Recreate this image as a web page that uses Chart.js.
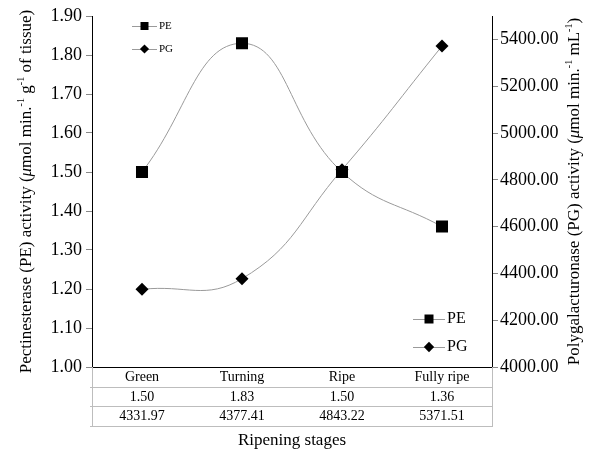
<!DOCTYPE html>
<html>
<head>
<meta charset="utf-8">
<script src="https://cdn.jsdelivr.net/npm/chart.js@4"></script>
<style>
html,body{margin:0;padding:0;background:#fff;}
#wrap{width:589px;height:460px;position:relative;}
</style>
</head>
<body>
<div id="wrap"><canvas id="c" width="589" height="460"></canvas></div>
<script>
const categories = ['Green', 'Turning', 'Ripe', 'Fully ripe'];
const peValues = [1.50, 1.83, 1.50, 1.36];
const pgValues = [4331.97, 4377.41, 4843.22, 5371.51];
const seriesNames = ['PE', 'PG'];
const xTitle = 'Ripening stages';

const FONT = "'Liberation Serif', 'DejaVu Serif', serif";
const LINE = '#9a9a9a';

function drawRich(ctx, segs, size, cx, cy, rot) {
  ctx.save();
  ctx.translate(cx, cy);
  ctx.rotate(rot);
  let total = 0;
  const parts = segs.map(s => {
    const sz = s.sup ? size * 0.6 : size;
    const f = (s.italic ? 'italic ' : '') + sz + 'px ' + FONT;
    ctx.font = f;
    const w = ctx.measureText(s.t).width;
    total += w;
    return {t: s.t, f, w, sup: s.sup};
  });
  let x = -total / 2;
  ctx.fillStyle = '#000';
  ctx.textBaseline = 'middle';
  ctx.textAlign = 'left';
  parts.forEach(p => {
    ctx.font = p.f;
    ctx.fillText(p.t, x, p.sup ? -size * 0.35 : 0);
    x += p.w;
  });
  ctx.restore();
}

function drawMarker(ctx, style, x, y, r) {
  ctx.save();
  ctx.fillStyle = '#000';
  ctx.beginPath();
  if (style === 'rect') {
    ctx.rect(x - r, y - r, 2 * r, 2 * r);
  } else {
    ctx.moveTo(x, y - r); ctx.lineTo(x + r, y); ctx.lineTo(x, y + r); ctx.lineTo(x - r, y); ctx.closePath();
  }
  ctx.fill();
  ctx.restore();
}

function drawLegend(ctx, x0, x1, y0, gap, size, mr) {
  const styles = ['rect', 'rectRot'];
  seriesNames.forEach((n, i) => {
    const y = y0 + i * gap;
    ctx.save();
    ctx.strokeStyle = LINE;
    ctx.lineWidth = 1;
    ctx.beginPath();
    ctx.moveTo(x0, y + 0.5); ctx.lineTo(x1, y + 0.5);
    ctx.stroke();
    ctx.restore();
    drawMarker(ctx, styles[i], (x0 + x1) / 2, y, i === 0 ? mr : mr * 1.15);
    ctx.save();
    ctx.fillStyle = '#000';
    ctx.font = size + 'px ' + FONT;
    ctx.textBaseline = 'middle';
    ctx.textAlign = 'left';
    ctx.fillText(n, x1 + 2, y);
    ctx.restore();
  });
}

const extras = {
  id: 'extras',
  afterDraw(chart) {
    const ctx = chart.ctx;
    const a = chart.chartArea;
    const xs = chart.scales.x;
    // bottom axis line
    ctx.save();
    ctx.strokeStyle = '#000';
    ctx.lineWidth = 1;
    ctx.beginPath();
    ctx.moveTo(a.left, a.bottom + 0.5); ctx.lineTo(a.right + 1, a.bottom + 0.5);
    ctx.stroke();
    // data table
    const rowH = 19.5;
    ctx.strokeStyle = '#bdbdbd';
    ctx.beginPath();
    for (let r = 1; r <= 3; r++) {
      const y = Math.round(a.bottom + r * rowH) + 0.5;
      ctx.moveTo(a.left - 2, y); ctx.lineTo(a.right + 1, y);
    }
    ctx.moveTo(a.left + 0.5, a.bottom); ctx.lineTo(a.left + 0.5, a.bottom + 3 * rowH + 1);
    ctx.moveTo(a.right + 0.5, a.bottom); ctx.lineTo(a.right + 0.5, a.bottom + 3 * rowH + 1);
    ctx.stroke();
    ctx.fillStyle = '#000';
    ctx.font = '14px ' + FONT;
    ctx.textAlign = 'center';
    ctx.textBaseline = 'middle';
    categories.forEach((c, i) => {
      const x = xs.getPixelForValue(i);
      ctx.fillText(c, x, a.bottom + rowH * 0.5 + 1);
      ctx.fillText(peValues[i].toFixed(2), x, a.bottom + rowH * 1.5 + 1);
      ctx.fillText(pgValues[i].toFixed(2), x, a.bottom + rowH * 2.5 + 1);
    });
    ctx.font = '17px ' + FONT;
    ctx.fillText(xTitle, (a.left + a.right) / 2, 441);
    ctx.restore();
    // axis titles
    const cy = (a.top + a.bottom) / 2;
    drawRich(ctx, [
      {t: 'Pectinesterase (PE) activity ('}, {t: 'μ', italic: true}, {t: 'mol min.'}, {t: '-1', sup: true},
      {t: ' g'}, {t: '-1', sup: true}, {t: ' of tissue)'}
    ], 17, 27, cy, -Math.PI / 2);
    drawRich(ctx, [
      {t: 'Polygalacturonase (PG) activity ('}, {t: 'μ', italic: true}, {t: 'mol min.'}, {t: '-1', sup: true},
      {t: ' mL'}, {t: '-1', sup: true}, {t: ')'}
    ], 17, 575, cy, -Math.PI / 2);
    // legends
    drawLegend(ctx, 132, 157, 26, 23, 11, 4);
    drawLegend(ctx, 413, 445, 319, 28, 16, 4.5);
  }
};

new Chart(document.getElementById('c'), {
  type: 'line',
  data: {
    labels: categories,
    datasets: [
      {
        label: seriesNames[0], data: peValues, yAxisID: 'y',
        borderColor: LINE, borderWidth: 1, tension: 0.45,
        pointStyle: 'rect', pointRadius: 8.5, pointHoverRadius: 8.5,
        pointBackgroundColor: '#000', pointBorderColor: '#000', pointBorderWidth: 0
      },
      {
        label: seriesNames[1], data: pgValues, yAxisID: 'y2',
        borderColor: LINE, borderWidth: 1, tension: 0.45,
        pointStyle: 'rectRot', pointRadius: 6.5, pointHoverRadius: 6.5,
        pointBackgroundColor: '#000', pointBorderColor: '#000', pointBorderWidth: 0
      }
    ]
  },
  options: {
    responsive: false,
    animation: false,
    layout: {padding: {top: 16, bottom: 93, left: 0, right: 0}},
    plugins: {legend: {display: false}, tooltip: {enabled: false}},
    scales: {
      x: {type: 'category', offset: true, display: false},
      y: {
        position: 'left', min: 1.0, max: 1.9,
        afterFit(s) { s.width = 92; },
        grid: {drawOnChartArea: false, drawTicks: true, tickLength: 6, color: '#888'},
        border: {display: true, color: '#000', width: 1},
        ticks: {stepSize: 0.1, padding: 4, color: '#000', font: {family: FONT, size: 18},
          callback: v => Number(v).toFixed(2)}
      },
      y2: {
        position: 'right', min: 4000, max: 5500,
        afterFit(s) { s.width = 97; },
        afterBuildTicks(s) { s.ticks = s.ticks.filter(t => t.value <= 5400); },
        grid: {drawOnChartArea: false, drawTicks: true, tickLength: 6, color: '#888'},
        border: {display: true, color: '#000', width: 1},
        ticks: {stepSize: 200, padding: 2, color: '#000', font: {family: FONT, size: 18},
          callback: v => Number(v).toFixed(2)}
      }
    }
  },
  plugins: [extras]
});
</script>
</body>
</html>
